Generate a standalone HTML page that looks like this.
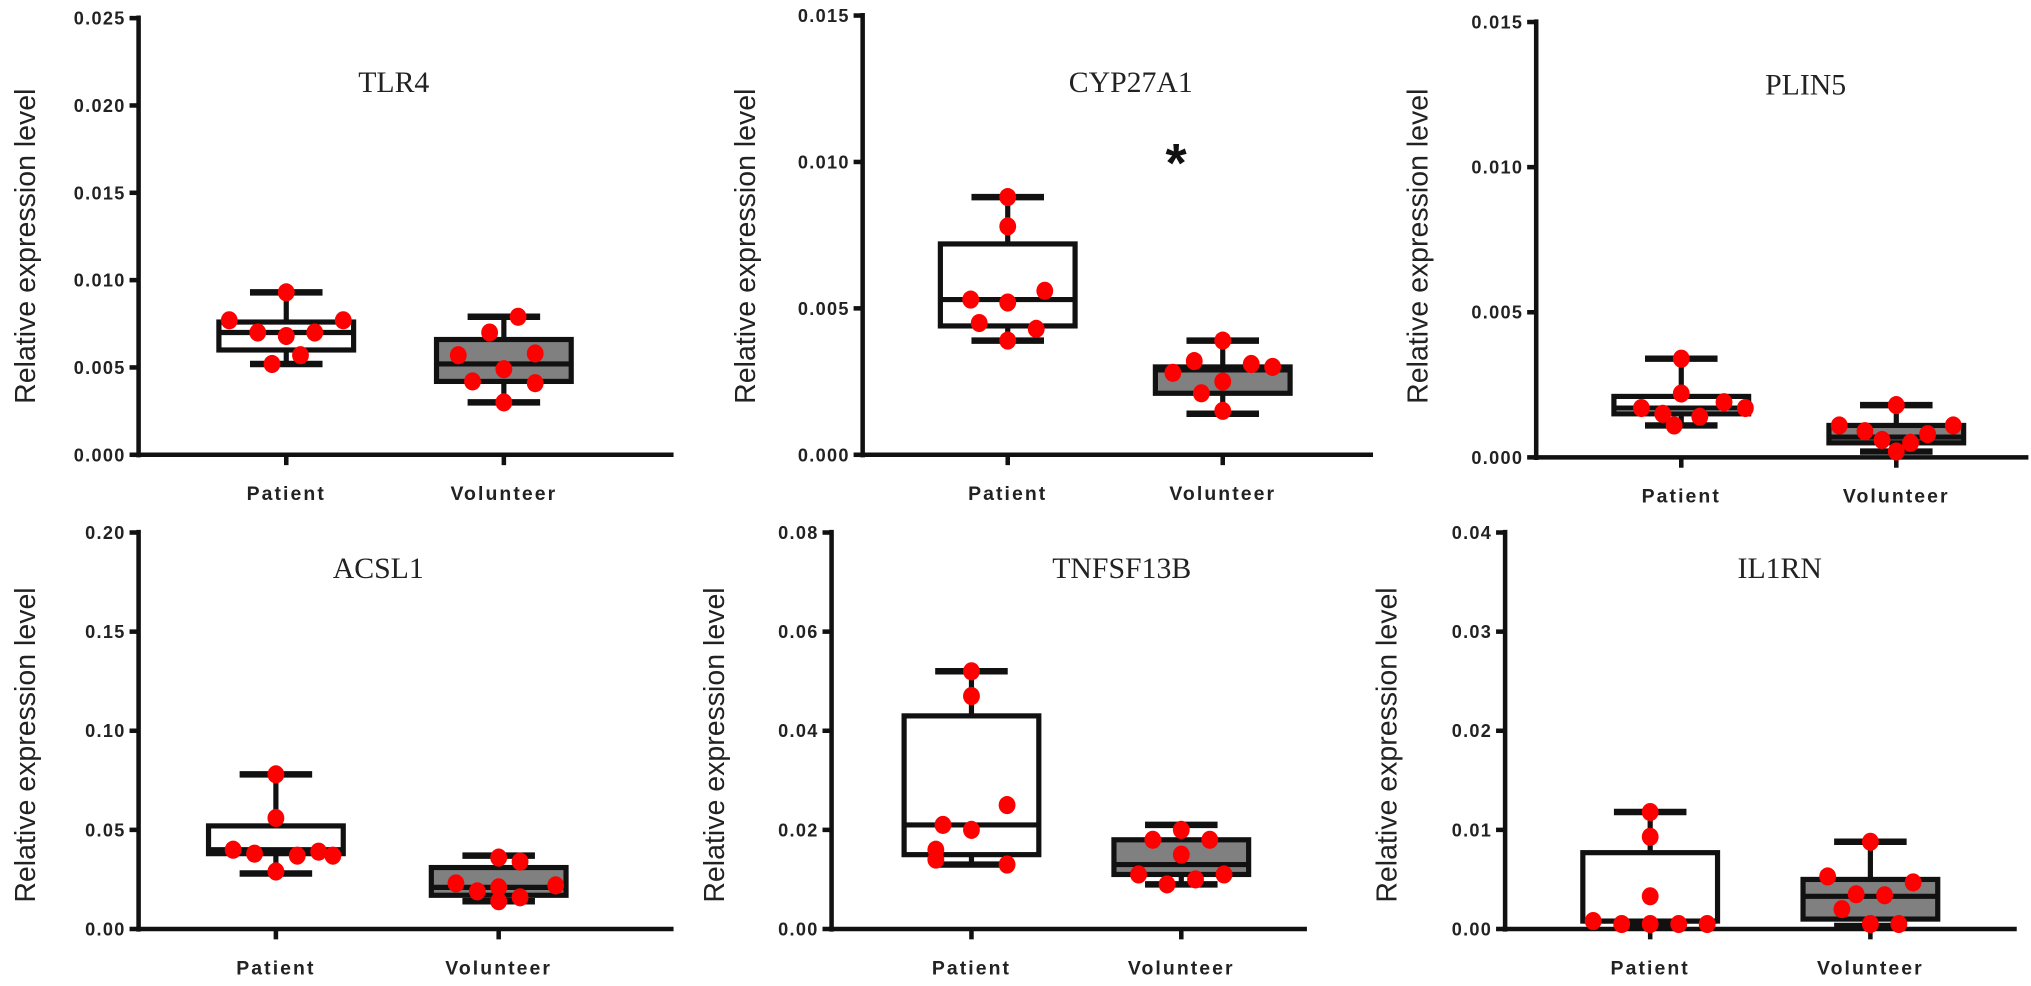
<!DOCTYPE html>
<html><head><meta charset="utf-8">
<style>
html,body{margin:0;padding:0;background:#fff;}
svg{display:block;}
.tick{font-family:"Liberation Sans",sans-serif;font-weight:bold;font-size:14px;letter-spacing:1px;fill:#222;}
.cat{font-family:"Liberation Sans",sans-serif;font-weight:bold;font-size:15px;letter-spacing:1.6px;fill:#222;}
.ttl{font-family:"Liberation Serif",serif;font-size:23px;fill:#222;}
.ylab{font-family:"Liberation Sans",sans-serif;font-size:22px;fill:#222;}
</style></head>
<body>
<svg id="chart" width="2031" height="986" viewBox="0 0 1568 761" preserveAspectRatio="none" xmlns="http://www.w3.org/2000/svg"></svg>
<script>
const genes = ["TLR4","CYP27A1","PLIN5","ACSL1","TNFSF13B","IL1RN"];
const yMaxes = [0.025,0.015,0.015,0.20,0.08,0.04];
const tickLabels = [
 ["0.000","0.005","0.010","0.015","0.020","0.025"],
 ["0.000","0.005","0.010","0.015"],
 ["0.000","0.005","0.010","0.015"],
 ["0.00","0.05","0.10","0.15","0.20"],
 ["0.00","0.02","0.04","0.06","0.08"],
 ["0.00","0.01","0.02","0.03","0.04"]];
const categories = ["Patient","Volunteer"];
// [whiskerLow, q1, median, q3, whiskerHigh]
const patientBox = [
 [0.0052,0.0060,0.0070,0.0076,0.0093],
 [0.0039,0.0044,0.0053,0.0072,0.0088],
 [0.0011,0.0015,0.0017,0.0021,0.0034],
 [0.028,0.038,0.040,0.052,0.078],
 [0.013,0.015,0.021,0.043,0.052],
 [0.0003,0.0008,0.0008,0.0077,0.0118]];
const volunteerBox = [
 [0.0030,0.0042,0.0052,0.0066,0.0079],
 [0.0014,0.0021,0.0029,0.0030,0.0039],
 [0.0002,0.0005,0.0007,0.0011,0.0018],
 [0.014,0.017,0.021,0.031,0.037],
 [0.009,0.011,0.013,0.018,0.021],
 [0.0003,0.0010,0.0033,0.0050,0.0088]];
const patientPoints = [
 [0.0093,0.0077,0.0077,0.0070,0.0070,0.0068,0.0057,0.0052],
 [0.0088,0.0078,0.0056,0.0053,0.0052,0.0045,0.0043,0.0039],
 [0.0034,0.0022,0.0019,0.0017,0.0017,0.0015,0.0014,0.0011],
 [0.078,0.056,0.040,0.039,0.038,0.037,0.037,0.029],
 [0.052,0.047,0.025,0.021,0.020,0.016,0.014,0.013],
 [0.0118,0.0093,0.0033,0.0008,0.0005,0.0005,0.0005,0.0005]];
const volunteerPoints = [
 [0.0079,0.0070,0.0057,0.0058,0.0049,0.0042,0.0041,0.0030],
 [0.0039,0.0032,0.0031,0.0030,0.0028,0.0025,0.0021,0.0015],
 [0.0018,0.0011,0.0011,0.0009,0.0008,0.0006,0.0005,0.0002],
 [0.036,0.034,0.023,0.022,0.021,0.019,0.016,0.014],
 [0.020,0.018,0.018,0.015,0.011,0.011,0.010,0.009],
 [0.0088,0.0053,0.0047,0.0035,0.0034,0.0020,0.0005,0.0005]];
const patientJitter = [
 [0,-40,40,-20,20,0,10,-10],[0,0,26,-26,0,-20,20,0],[0,0,30,-28,45,-13,13,-5],
 [0,0,-30,30,-15,15,40,0],[0,0,25,-20,0,-25,-25,25],[0,0,0,-40,-20,0,20,40]];
const volunteerJitter = [
 [10,-10,-32,22,0,-22,22,0],[0,-20,20,35,-35,0,-15,0],[0,-40,40,-22,22,-10,10,0],
 [0,15,-30,40,0,-15,15,0],[0,-20,20,0,-30,30,10,-10],[0,-30,30,-10,10,-20,0,20]];

const layout = [
 {ax:107,top:14,bot:351,right:520,px:221,vx:389,tx:304,ty:71,lx:19,ly:190},
 {ax:666,top:12,bot:351,right:1060,px:778,vx:944,tx:873,ty:71,lx:575,ly:190},
 {ax:1186,top:17,bot:353,right:1566,px:1298,vx:1464,tx:1394,ty:73,lx:1094,ly:190},
 {ax:107,top:411,bot:717,right:520,px:213,vx:385,tx:292,ty:446,lx:19,ly:575},
 {ax:642,top:411,bot:717,right:1009,px:750,vx:912,tx:866,ty:446,lx:551,ly:575},
 {ax:1162,top:411,bot:717,right:1557,px:1274,vx:1444,tx:1374,ty:446,lx:1070,ly:575}];

const svg = document.getElementById('chart');
const NS = "http://www.w3.org/2000/svg";
function mk(tag, attrs, parent){
  const e = document.createElementNS(NS, tag);
  for (const k in attrs) e.setAttribute(k, attrs[k]);
  parent.appendChild(e); return e;
}
genes.forEach((g,i)=>{
  const L = layout[i];
  const y = v => L.bot - (v / yMaxes[i]) * (L.bot - L.top);
  const grp = mk('g',{},svg);
  
  
  const ya = mk('line',{x1:L.ax,y1:L.top-2,x2:L.ax,y2:L.bot+2,stroke:'#111','stroke-width':3.5},grp);
  
  
  const xa = mk('line',{x1:L.ax-2,y1:L.bot,x2:L.right,y2:L.bot,stroke:'#111','stroke-width':3.5},grp);
  
  
  const labs = tickLabels[i];
  labs.forEach((t,k)=>{
    const v = yMaxes[i] * k / (labs.length-1);
    const yy = y(v);
    mk('line',{x1:L.ax-7,y1:yy,x2:L.ax,y2:yy,stroke:'#111','stroke-width':3.5},grp);
    const tx = mk('text',{x:L.ax-10,y:yy+5,'text-anchor':'end',class:'tick'},grp);
    tx.textContent = t;
    
    
  });
  const tt = mk('text',{x:L.tx,y:L.ty,'text-anchor':'middle',class:'ttl'},grp);
  tt.textContent = g;
  
  
  const yl = mk('text',{x:0,y:0,'text-anchor':'middle',class:'ylab',transform:`translate(${L.lx+8},${L.ly}) rotate(-90)`},grp);
  yl.textContent = 'Relative expression level';
  
  
  [[L.px,patientBox[i],'#fff',patientPoints[i],patientJitter[i],categories[0]],
   [L.vx,volunteerBox[i],'#808080',volunteerPoints[i],volunteerJitter[i],categories[1]]].forEach(([cx,b,fill,pts,jit,cat])=>{
    mk('line',{x1:cx,y1:L.bot,x2:cx,y2:L.bot+8,stroke:'#111','stroke-width':3.5},grp);
    const cl = mk('text',{x:cx,y:L.bot+35,'text-anchor':'middle',class:'cat'},grp);
    cl.textContent = cat;
    
    
    const hw = 52, cw = 28;
    mk('line',{x1:cx,y1:y(b[0]),x2:cx,y2:y(b[4]),stroke:'#111','stroke-width':4},grp);
    mk('line',{x1:cx-cw,y1:y(b[0]),x2:cx+cw,y2:y(b[0]),stroke:'#111','stroke-width':5},grp);
    mk('line',{x1:cx-cw,y1:y(b[4]),x2:cx+cw,y2:y(b[4]),stroke:'#111','stroke-width':5},grp);
    const bx = mk('rect',{x:cx-hw,y:y(b[3]),width:2*hw,height:Math.max(1,y(b[1])-y(b[3])),fill:fill,stroke:'#111','stroke-width':4},grp);
    
    
    mk('line',{x1:cx-hw,y1:y(b[2]),x2:cx+hw,y2:y(b[2]),stroke:'#111','stroke-width':4},grp);
    pts.forEach((v,k)=>{
      const c = mk('ellipse',{cx:cx+jit[k]*1.1,cy:y(v),rx:6.5,ry:7,fill:'#ff0000'},grp);
      
      
    });
  });
});
const star = mk('text',{x:908,y:140,'text-anchor':'middle','font-family':'Liberation Sans, sans-serif','font-size':'42px','font-weight':'bold',fill:'#111'},svg);
star.textContent = '*';


</script>
</body></html>
